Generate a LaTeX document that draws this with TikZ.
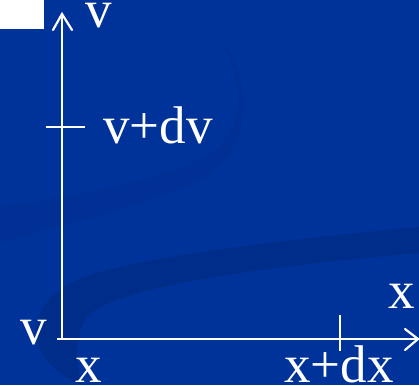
\documentclass[tikz,border=0pt]{standalone}
\usepackage{fontspec}
\setmainfont{Liberation Serif}
\definecolor{bgblue}{RGB}{0,51,153}
\definecolor{swooshblue}{RGB}{0,45,138}
\definecolor{faintblue}{RGB}{0,48,147}
\begin{document}
\begin{tikzpicture}[x=1pt,y=-1pt,
  lbl/.style={text=white,font=\fontsize{53}{60}\selectfont,inner sep=0pt,anchor=base},
  axisline/.style={white,line width=2.2pt},
  barb/.style={white,line width=2.2pt,line cap=round,line join=miter}]
\fill[bgblue] (0,0) rectangle (419,385);
\useasboundingbox (0,0) rectangle (419,385);
% background swooshes
\fill[faintblue] (218,36) .. controls (252,70) and (258,150) .. (200,180)
  .. controls (150,205) and (60,225) .. (0,243) -- (0,207)
  .. controls (80,195) and (170,180) .. (215,150)
  .. controls (250,120) and (240,70) .. (218,36) -- cycle;
\fill[swooshblue] (419,227) .. controls (300,238) and (150,255) .. (90,275)
  .. controls (45,290) and (30,320) .. (38,345)
  .. controls (45,365) and (65,378) .. (82,385)
  .. controls (76,365) and (74,340) .. (85,320)
  .. controls (100,295) and (200,272) .. (419,253) -- cycle;
% white corner box
\fill[white] (0,0) rectangle (44,29);
% axes
\coordinate (O) at (62,339);
\coordinate (ytip) at (62,14);
\coordinate (xstart) at (57,339);
\coordinate (xtip) at (418,339);
\draw[axisline] (O) -- (ytip);
\draw[axisline] (xstart) -- (xtip);
\draw[barb] (53,30) -- (ytip) -- (72,30);
\draw[barb] (405,329) -- (xtip) -- (405,350);
% ticks
\coordinate (yt1) at (46,127);
\coordinate (yt2) at (85,127);
\coordinate (xt1) at (340,315);
\coordinate (xt2) at (340,351);
\draw[axisline] (yt1) -- (yt2);
\draw[axisline] (xt1) -- (xt2);
% labels
\node[lbl] (vtop) at (99,28) {v};
\node[lbl] (vdv) at (158,143) {v+dv};
\node[lbl] (vleft) at (33.5,344) {v};
\node[lbl] (xbot) at (88.5,382) {x};
\node[lbl] (xdx) at (339,382) {x+dx};
\node[lbl] (xright) at (401.5,308) {x};
\end{tikzpicture}
\end{document}
